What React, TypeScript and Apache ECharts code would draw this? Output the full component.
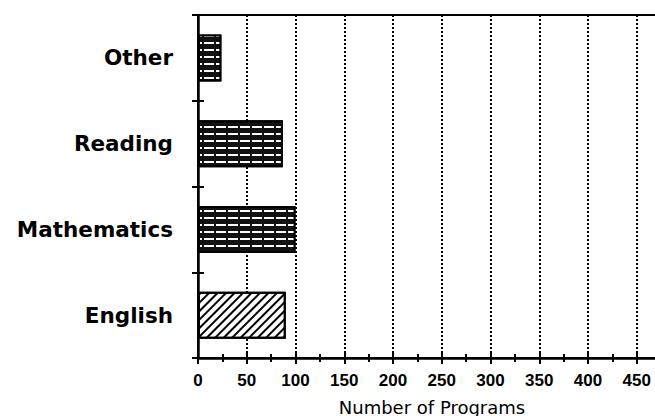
import React, { useEffect, useRef } from "react";
import * as echarts from "echarts";

const categories = ["English", "Mathematics", "Reading", "Other"];
const programCounts = [90, 100, 87, 24];
const xTicks = [0, 50, 100, 150, 200, 250, 300, 350, 400, 450];
const xAxisMax = 480;
const xAxisTitle = "Number of Programs";

const hatchDecal = {
  symbol: "rect",
  symbolSize: 1,
  color: "#000",
  backgroundColor: "#fff",
  dashArrayX: [1, 0],
  dashArrayY: [2, 3.5],
  rotation: -Math.PI / 4,
};
const waveDecal = {
  symbol: "rect",
  symbolSize: 1,
  color: "#fff",
  backgroundColor: "#111",
  dashArrayX: [[10, 2]],
  dashArrayY: [2, 4.5],
  rotation: 0,
};
const decals = [hatchDecal, waveDecal, waveDecal, waveDecal];

export default function App() {
  const ref = useRef<HTMLDivElement>(null);
  useEffect(() => {
    if (!ref.current) return;
    const chart = echarts.init(ref.current, null, { renderer: "svg" });
    const xCommon = {
      type: "value" as const,
      min: xTicks[0],
      max: xAxisMax,
      interval: xTicks[1] - xTicks[0],
      position: "bottom" as const,
    };
    chart.setOption({
      animation: false,
      backgroundColor: "#fff",
      grid: {
        left: 198,
        right: 54,
        top: 15,
        bottom: 58,
        show: true,
        borderColor: "#000",
        borderWidth: 2,
        backgroundColor: "transparent",
      },
      xAxis: [
        {
          ...xCommon,
          axisLine: { show: true, lineStyle: { color: "#000", width: 2.5 } },
          axisTick: { show: true, length: 6, lineStyle: { color: "#000", width: 2 } },
          minorTick: { show: true, splitNumber: 2, length: 4, lineStyle: { color: "#000", width: 2 } },
          axisLabel: {
            margin: 14,
            color: "#000",
            fontFamily: "Liberation Sans",
            fontWeight: "bold",
            fontSize: 17,
            showMaxLabel: false,
          },
          splitLine: {
            show: true,
            lineStyle: { color: "#000", width: 2, type: [2, 2] },
          },
        },
        {
          ...xCommon,
          axisLine: { show: false },
          axisTick: { show: true, inside: true, length: 6, lineStyle: { color: "#000", width: 2 } },
          minorTick: { show: true, splitNumber: 2, length: 4, lineStyle: { color: "#000", width: 2 } },
          axisLabel: { show: false },
          splitLine: { show: false },
        },
      ],
      yAxis: [
        {
          type: "category",
          data: categories,
          axisLine: { show: true, lineStyle: { color: "#000", width: 2.5 } },
          axisTick: { show: true, length: 6, lineStyle: { color: "#000", width: 2 } },
          axisLabel: {
            margin: 25,
            color: "#000",
            fontFamily: "DejaVu Sans",
            fontWeight: "bold",
            fontSize: 21.5,
          },
        },
        {
          type: "category",
          data: categories,
          position: "left",
          axisLine: { show: false },
          axisTick: { show: true, inside: true, length: 6, lineStyle: { color: "#000", width: 2 } },
          axisLabel: { show: false },
        },
      ],
      series: [
        {
          type: "bar",
          xAxisIndex: 0,
          yAxisIndex: 0,
          barWidth: 47,
          data: programCounts.map((v, i) => ({
            value: v,
            itemStyle: {
              color: i === 0 ? "#fff" : "#111",
              borderColor: "#000",
              borderWidth: 2,
              decal: decals[i],
            },
          })),
        },
      ],
      graphic: [
        {
          type: "text",
          x: 432,
          y: 407,
          style: {
            text: xAxisTitle,
            fill: "#000",
            font: "18px 'DejaVu Sans'",
            textAlign: "center",
            textVerticalAlign: "middle",
          },
        },
      ],
    });
    return () => chart.dispose();
  }, []);
  return (
    <div
      style={{
        position: "fixed",
        left: 0,
        top: 0,
        width: 655,
        height: 416,
        overflow: "hidden",
        background: "#fff",
      }}
    >
      <div ref={ref} style={{ width: 720, height: 416 }} />
    </div>
  );
}
